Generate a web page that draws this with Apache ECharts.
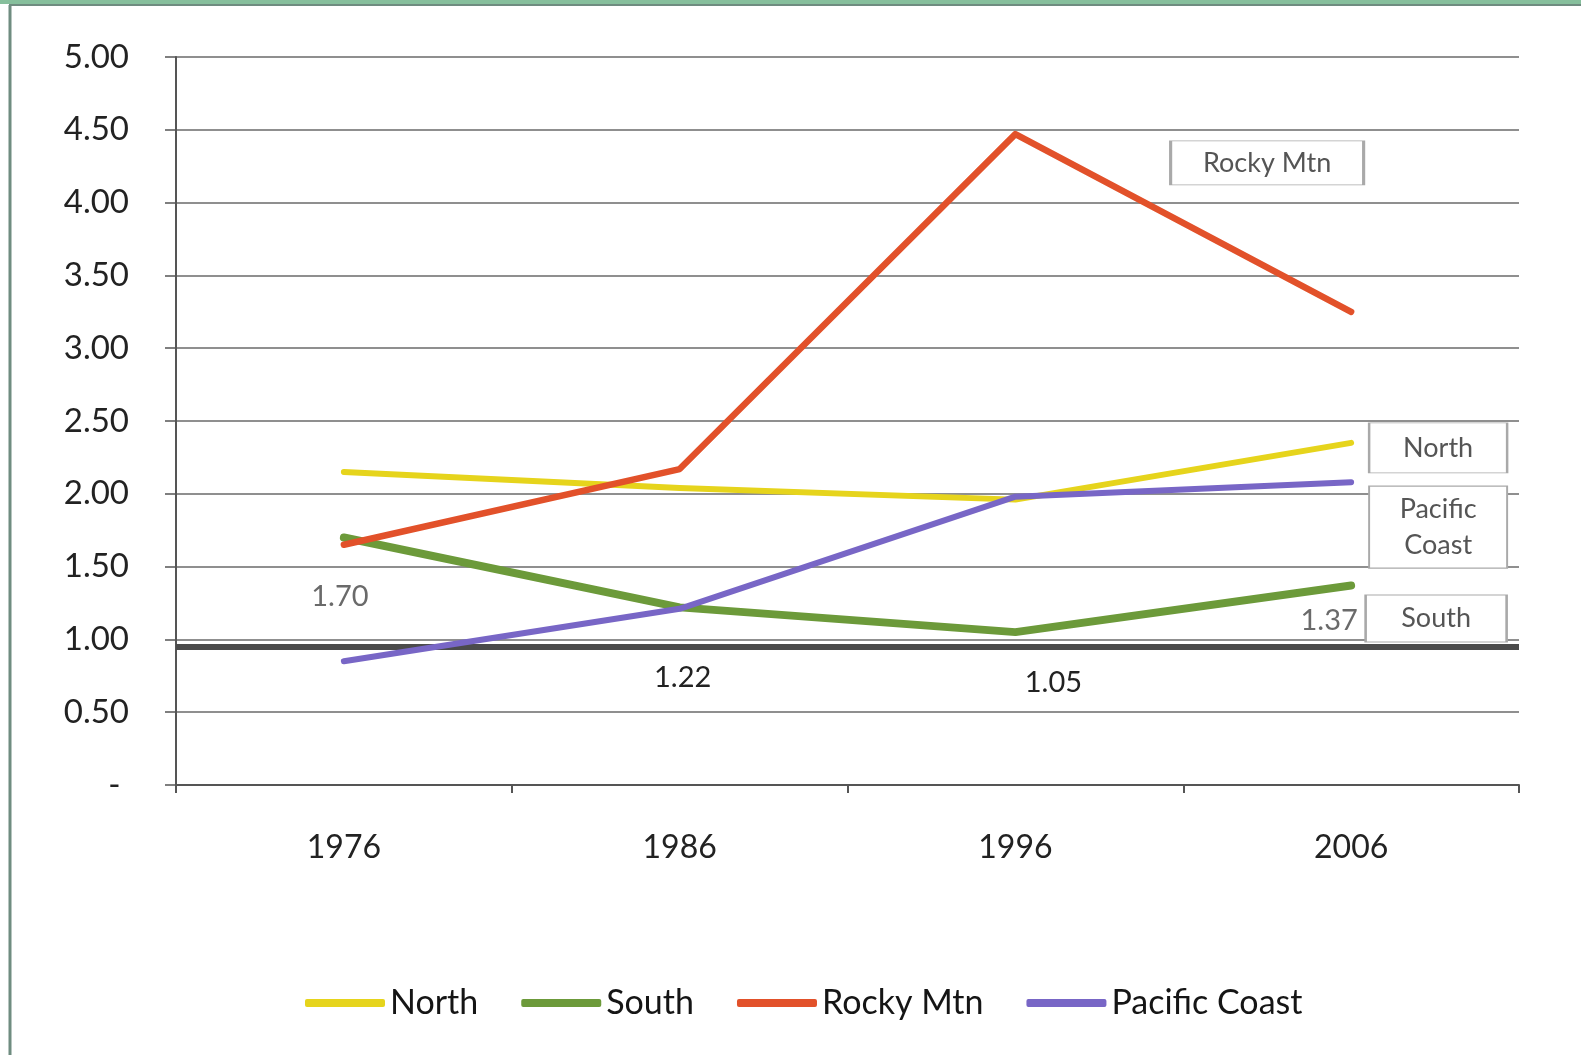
<!DOCTYPE html>
<html>
<head>
<meta charset="utf-8">
<script src="https://cdn.jsdelivr.net/npm/echarts@6/dist/echarts.min.js"></script>
<style>
  html, body { margin: 0; padding: 0; background: #ffffff; }
  #chart { width: 1581px; height: 1055px; }
</style>
</head>
<body>
<div id="chart"></div>
<script>
// Regional ratios, 1976-2006
const years = ['1976', '1986', '1996', '2006'];
const north = [2.15, 2.04, 1.96, 2.35];
const south = [1.70, 1.22, 1.05, 1.37];
const rockyMtn = [1.65, 2.17, 4.47, 3.25];
const pacificCoast = [0.85, 1.21, 1.98, 2.08];
const seriesNames = ['North', 'South', 'Rocky Mtn', 'Pacific Coast'];
const yTicks = [0, 0.5, 1, 1.5, 2, 2.5, 3, 3.5, 4, 4.5, 5];
const baseline = 0.95;

const FONT = 'Lato';
const colors = ['#e6d41c', '#6c9a3a', '#e2512a', '#7866c6'];
const widths = [6, 8, 6.5, 6];

// value labels on the South line: offsets from each point, and text colour
const southLabelOffsets = [[-4, 59], [3, 70], [38, 51], [-22, 35]];
const southLabelColors = ['#6a6a6a', '#222222', '#222222', '#6a6a6a'];

// name boxes beside the line ends: offset of the box centre, box size
const nameBoxes = [
  { offset: [87, 5], size: [138, 50] },
  { offset: [85, 33], size: [141, 47] },
  { offset: [-84, -149], size: [193, 44] },
  { offset: [87, 45], size: [138, 82] }
];

const allValues = [north, south, rockyMtn, pacificCoast];

function nameBox(i) {
  const vals = allValues[i];
  const last = vals.length - 1;
  const b = nameBoxes[i];
  return {
    symbol: 'rect',
    symbolKeepAspect: false,
    silent: true,
    animation: false,
    data: [{
      coord: [years[last], vals[last]],
      symbolSize: b.size,
      symbolOffset: b.offset,
      itemStyle: { color: '#ffffff', borderColor: '#a9a9a9', borderWidth: 1.5 },
      label: {
        show: true,
        position: 'inside',
        formatter: seriesNames[i] === 'Pacific Coast' ? 'Pacific\nCoast' : seriesNames[i],
        color: '#555555',
        fontFamily: FONT,
        fontSize: 27,
        lineHeight: 36
      }
    }]
  };
}

const series = seriesNames.map((name, i) => {
  const s = {
    name: name,
    type: 'line',
    data: allValues[i],
    showSymbol: false,
    symbol: 'circle',
    symbolSize: 1,
    z: 2 + i,
    lineStyle: { color: colors[i], width: widths[i], cap: 'round', join: 'round' },
    itemStyle: { color: colors[i] },
    markPoint: nameBox(i)
  };
  if (name === 'South') {
    s.showSymbol = true;
    s.data = south.map((v, k) => ({
      value: v,
      label: {
        show: true,
        position: 'inside',
        offset: southLabelOffsets[k],
        color: southLabelColors[k],
        fontFamily: FONT,
        fontSize: 29,
        formatter: (p) => p.value.toFixed(2)
      }
    }));
  }
  if (name === 'North') {
    s.markLine = {
      silent: true,
      symbol: 'none',
      animation: false,
      label: { show: false },
      lineStyle: { color: '#4b4b4b', width: 6, type: 'solid' },
      data: [{ yAxis: baseline }]
    };
  }
  return s;
});

const chart = echarts.init(document.getElementById('chart'));
chart.setOption({
  animation: false,
  backgroundColor: '#ffffff',
  textStyle: { fontFamily: FONT },
  color: colors,
  graphic: [
    { type: 'rect', shape: { x: 0, y: 0, width: 1581, height: 4 }, style: { fill: '#86bf9c' }, silent: true },
    { type: 'line', shape: { x1: 9, y1: 5, x2: 1581, y2: 5 }, style: { stroke: '#6f8c80', lineWidth: 2 }, silent: true },
    { type: 'line', shape: { x1: 10, y1: 5, x2: 10, y2: 1055 }, style: { stroke: '#6f8c80', lineWidth: 3 }, silent: true }
  ],
  grid: { left: 176, right: 62, top: 57, bottom: 270, containLabel: false },
  legend: {
    data: seriesNames,
    left: 300,
    top: 981,
    itemWidth: 80,
    itemHeight: 8,
    itemGap: 43,
    icon: 'roundRect',
    textStyle: { fontFamily: FONT, fontSize: 34, color: '#151515' }
  },
  xAxis: {
    type: 'category',
    data: years,
    boundaryGap: true,
    axisLine: { show: true, lineStyle: { color: '#555555', width: 2 } },
    axisTick: { show: true, length: 8, lineStyle: { color: '#555555', width: 2 } },
    axisLabel: { fontFamily: FONT, fontSize: 32, color: '#222222', margin: 47 },
    splitLine: { show: false }
  },
  yAxis: {
    type: 'value',
    min: 0,
    max: 5,
    interval: 0.5,
    axisLine: { show: true, lineStyle: { color: '#555555', width: 2 } },
    axisTick: { show: true, length: 11, lineStyle: { color: '#555555', width: 1.5 } },
    axisLabel: {
      fontFamily: FONT,
      fontSize: 33,
      color: '#222222',
      margin: 47,
      padding: [10, 0, 0, 0],
      customValues: yTicks,
      formatter: (v) => (v === 0 ? '- ' : v.toFixed(2))
    },
    splitLine: { show: true, lineStyle: { color: '#6a6a6a', width: 1.5 } }
  },
  series: series
});
</script>
</body>
</html>
